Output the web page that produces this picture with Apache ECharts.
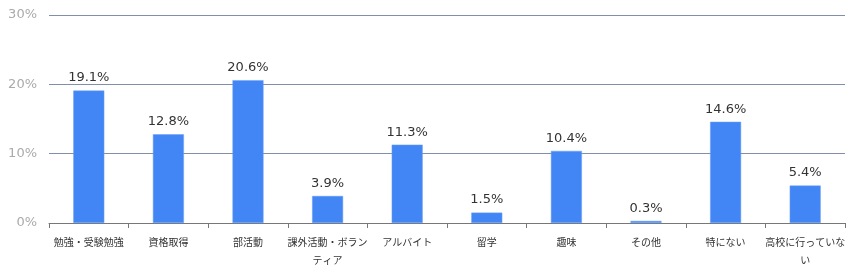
<!DOCTYPE html>
<html>
<head>
<meta charset="utf-8">
<script src="https://cdn.jsdelivr.net/npm/echarts@6/dist/echarts.min.js"></script>
<style>
  html, body { margin: 0; padding: 0; background: #fff; }
  #chart { width: 860px; height: 276px; }
</style>
</head>
<body>
<div id="chart"></div>
<script>
// カテゴリ
const categories = ['勉強・受験勉強', '資格取得', '部活動', '課外活動・ボランティア', 'アルバイト', '留学', '趣味', 'その他', '特にない', '高校に行っていない'];
// 割合(%)
const values = [19.1, 12.8, 20.6, 3.9, 11.3, 1.5, 10.4, 0.3, 14.6, 5.4];
// 目盛り
const yTicks = [0, 10, 20, 30];

const font = '"DejaVu Sans", "Noto Sans CJK JP", sans-serif';

const myChart = echarts.init(document.getElementById('chart'));
myChart.setOption({
  animation: false,
  grid: { left: 49, right: 15, top: 15, bottom: 53 },
  xAxis: {
    type: 'category',
    data: categories,
    axisLine: { lineStyle: { color: '#777', width: 1 } },
    axisTick: { show: true, length: 5, lineStyle: { color: '#777' } },
    axisLabel: {
      interval: 0,
      color: '#333',
      fontSize: 10,
      fontFamily: font,
      width: 82,
      overflow: 'break',
      lineHeight: 18,
      margin: 11
    }
  },
  yAxis: {
    type: 'value',
    min: yTicks[0],
    max: yTicks[yTicks.length - 1],
    interval: 10,
    axisLine: { show: false },
    axisTick: { show: false },
    splitLine: { lineStyle: { color: '#8090a8', width: 1 } },
    axisLabel: {
      formatter: '{value}%',
      color: '#aaa',
      fontSize: 13,
      fontFamily: font,
      margin: 12
    }
  },
  series: [{
    type: 'bar',
    data: values,
    barWidth: 31,
    itemStyle: { color: '#4285F4', borderColor: '#6aa0f7', borderWidth: 0.5 },
    label: {
      show: true,
      position: 'top',
      distance: 6,
      formatter: p => p.value.toFixed(1) + '%',
      color: '#333',
      fontSize: 13,
      fontFamily: font
    }
  }]
});
</script>
</body>
</html>
